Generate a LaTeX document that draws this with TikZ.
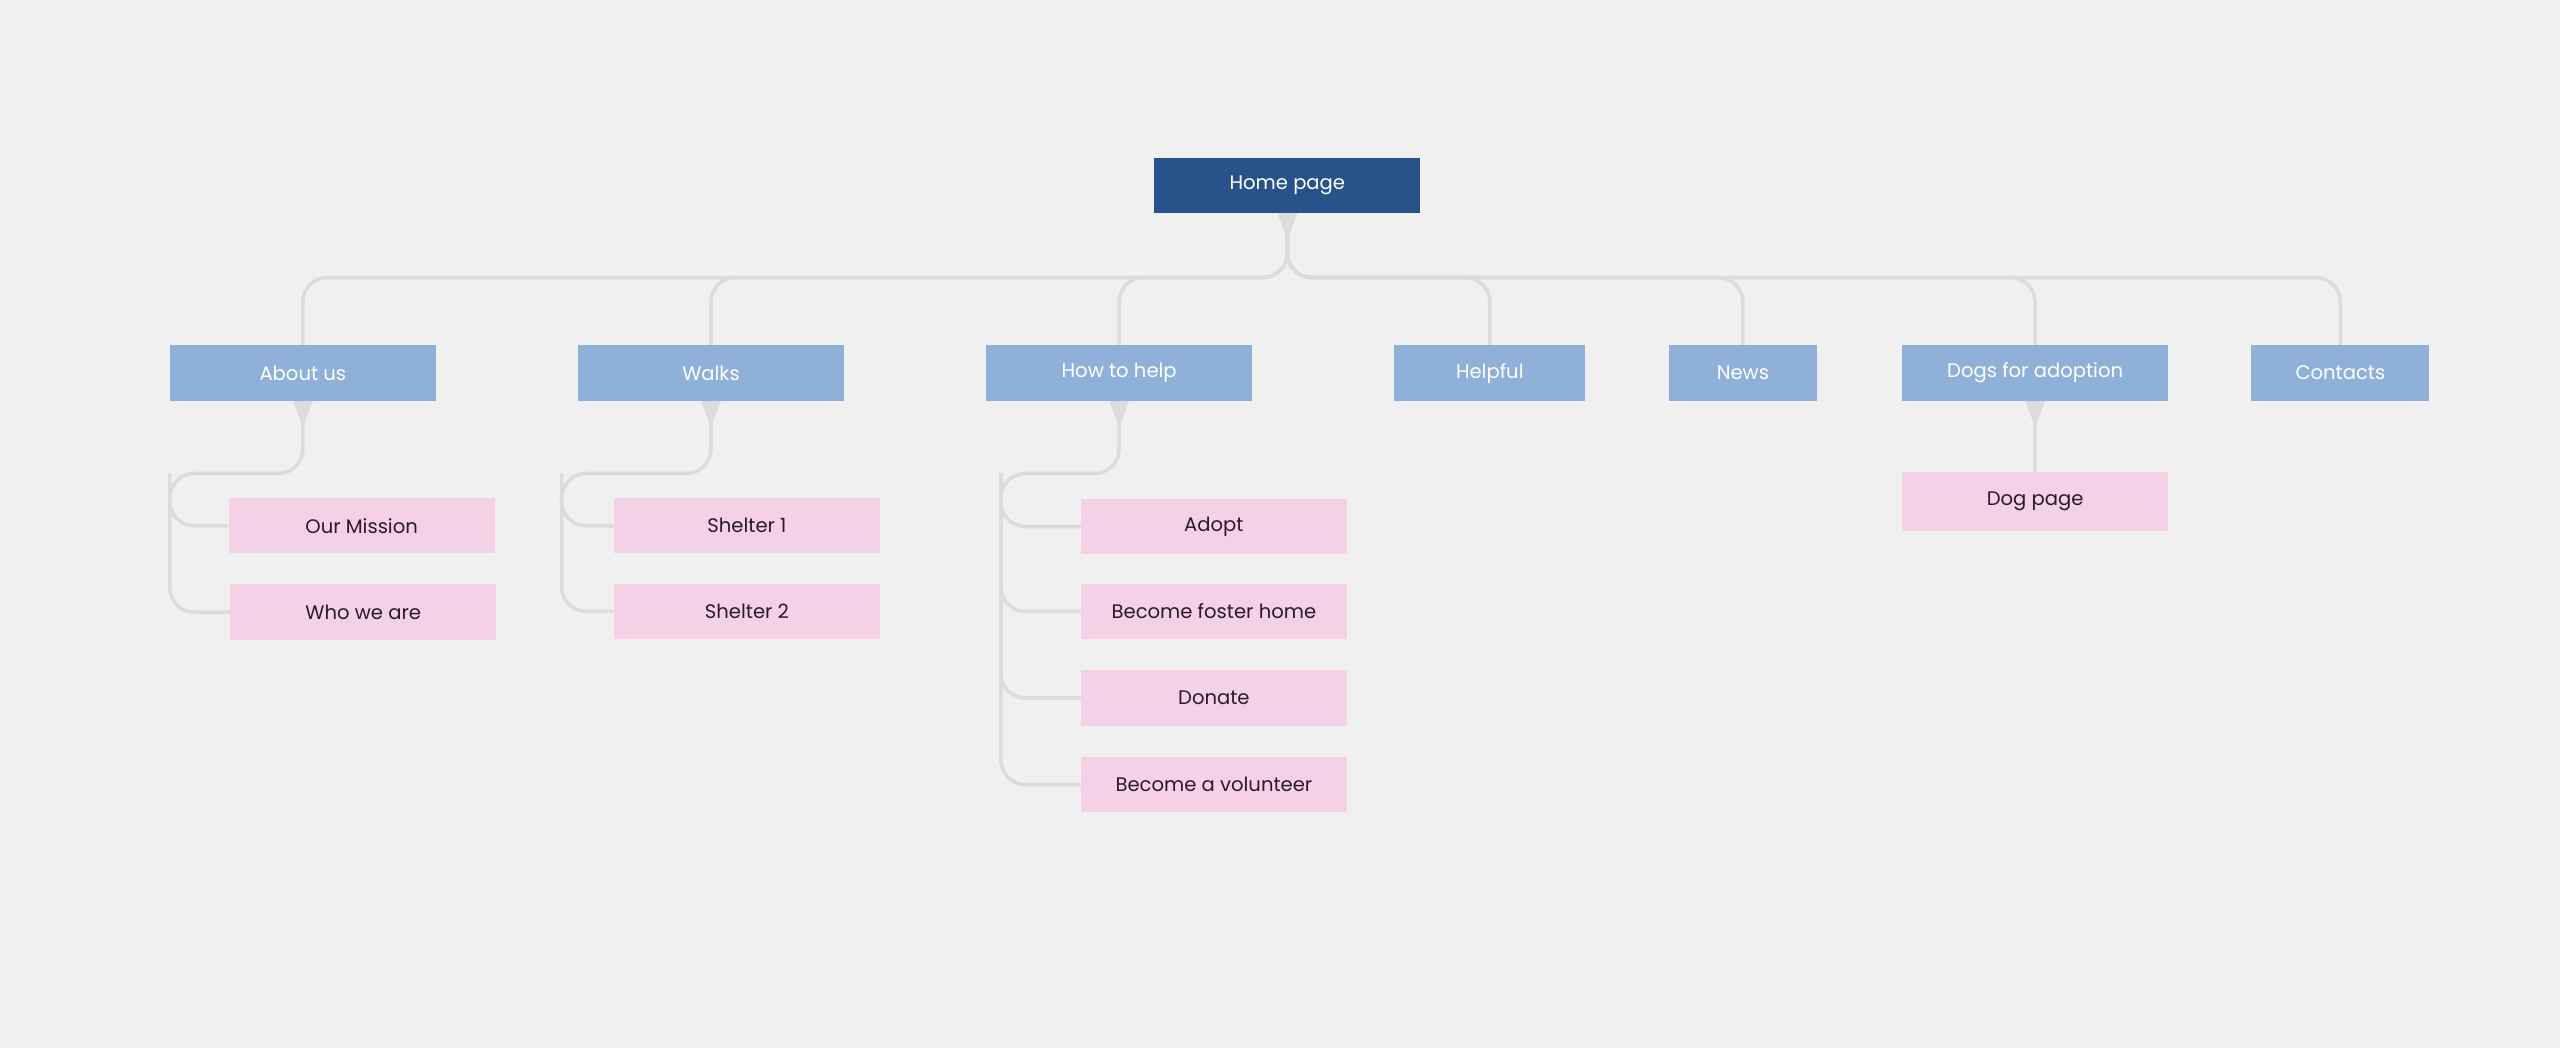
\documentclass[tikz,border=0pt]{standalone}
\usepackage{fontspec}
\setmainfont{Poppins}
\usetikzlibrary{calc}
\definecolor{bg}{HTML}{F0F0F0}
\definecolor{homec}{HTML}{27538A}
\definecolor{secc}{HTML}{8FB0D8}
\definecolor{pinkc}{HTML}{F5D1E6}
\definecolor{linec}{HTML}{DCDCDC}
\definecolor{txt}{HTML}{2A1A2A}
\begin{document}
\begin{tikzpicture}[x=1pt,y=-1pt,
  box/.style={rectangle,inner sep=0pt,font=\fontsize{12}{14}\selectfont},
  home/.style={box,fill=homec,text=white,minimum width=163pt,minimum height=34pt},
  sec/.style={box,fill=secc,text=white,minimum height=34pt},
  sub/.style={box,fill=pinkc,text=txt,minimum width=163pt,minimum height=34pt},
  conn/.style={draw=linec,line width=2.2pt,rounded corners=15pt},
  tri/.style={fill=linec}]
\fill[bg] (0,0) rectangle (1568,642);
\useasboundingbox (0,0) rectangle (1568,642);
\coordinate (bus) at (0,170);
\node[home] (home) at (788.5,113.5) {Home page};
\node[sec,minimum width=163pt] (about) at (185.5,228.5) {About us};
\node[sec,minimum width=163pt] (walks) at (435.5,228.5) {Walks};
\node[sec,minimum width=163pt] (help) at (685.5,228.5) {How to help};
\node[sec,minimum width=117pt] (helpful) at (912.5,228.5) {Helpful};
\node[sec,minimum width=91pt] (news) at (1067.5,228.5) {News};
\node[sec,minimum width=163pt] (dogs) at (1246.5,228.5) {Dogs for adoption};
\node[sec,minimum width=109pt] (contacts) at (1433.5,228.5) {Contacts};
\node[sub] (mission) at (221.5,322) {Our Mission};
\node[sub] (who) at (222.5,375) {Who we are};
\node[sub] (s1) at (457.5,322) {Shelter 1};
\node[sub] (s2) at (457.5,374.5) {Shelter 2};
\node[sub] (adopt) at (743.5,322.5) {Adopt};
\node[sub] (foster) at (743.5,374.5) {Become foster home};
\node[sub] (donate) at (743.5,427.5) {Donate};
\node[sub] (vol) at (743.5,480.5) {Become a volunteer};
\node[sub,minimum height=36pt] (dogpage) at (1246.5,307) {Dog page};
\coordinate (ta) at (104,290);
\coordinate (tw) at (344,290);
\coordinate (th) at (613,290);
% home to sections
\foreach \n in {about,walks,help,helpful,news,dogs,contacts}{
  \draw[conn] (home.south) -- (home.south |- bus) -- (\n.north |- bus) -- (\n.north);
}
% about
\draw[conn] (about.south) -- (about.south |- ta) -- (ta) -- (ta |- who) -- (who.west);
\draw[conn] (ta) -- (ta |- mission) -- (mission.west);
% walks
\draw[conn] (walks.south) -- (walks.south |- tw) -- (tw) -- (tw |- s2) -- (s2.west);
\draw[conn] (tw) -- (tw |- s1) -- (s1.west);
% help
\draw[conn] (help.south) -- (help.south |- th) -- (th) -- (th |- vol) -- (vol.west);
\foreach \n in {adopt,foster,donate}{
  \draw[conn] (th) -- (th |- \n) -- (\n.west);
}
% dogs
\draw[conn] (dogs.south) -- (dogpage.north);
% triangles
\foreach \n in {home,about,walks,help,dogs}{
  \fill[tri] ($(\n.south)+(-6,0)$) -- ($(\n.south)+(6,0)$) -- ($(\n.south)+(0,16)$) -- cycle;
}
\end{tikzpicture}
\end{document}
